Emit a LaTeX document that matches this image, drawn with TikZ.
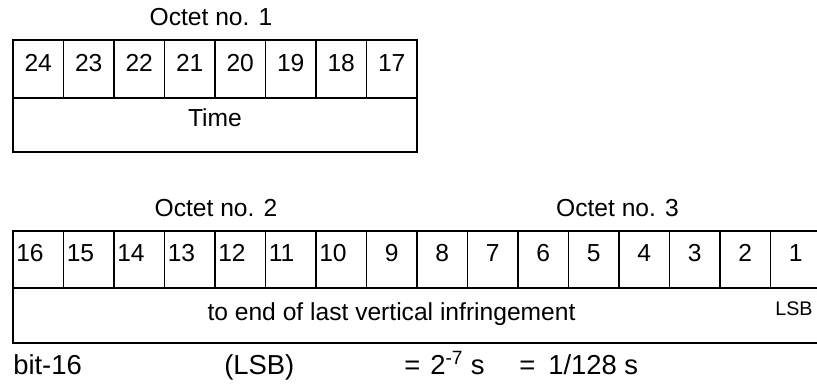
\documentclass[tikz,border=0pt]{standalone}
\usepackage{fontspec}
\setmainfont{Liberation Sans}

\begin{document}
\begin{tikzpicture}[x=0.025cm,y=-0.025cm]
    \tikzstyle{every node}+=[inner sep=0pt]
    \tikzstyle{lbl}=[anchor=base,font=\fontsize{17.5}{20}\selectfont]
    \tikzstyle{big lbl}=[anchor=base west,font=\fontsize{19.5}{22}\selectfont]
    \tikzstyle{small lbl}=[anchor=base,font=\fontsize{14}{16}\selectfont]
    \tikzstyle{rule}=[black,line width=1.4pt]
    \useasboundingbox (0,0) rectangle (817,385);
    \clip (0,0) rectangle (817,385);
    % octet 1
    \draw (211,26) node [lbl] (oct1) {Octet no. 1};
    \draw [rule] (13,40) rectangle (417,152);
    \draw [rule] (13,98) -- (417,98);
    \foreach \i in {1,...,7}
        \draw [rule] (13+50.5*\i,40) -- (13+50.5*\i,98);
    \foreach \i [evaluate=\i as \bit using int(24-\i)] in {0,...,7}
        \draw (38.25+50.5*\i,72) node [lbl] (bit\bit) {\bit};
    \draw (215,127) node [lbl] (time) {Time};
    % octets 2 and 3
    \draw (216,217) node [lbl] (oct2) {Octet no. 2};
    \draw (617.5,217) node [lbl] (oct3) {Octet no. 3};
    \draw [rule] (13,231) rectangle (821,343);
    \draw [rule] (13,288) -- (821,288);
    \foreach \i in {1,...,15}
        \draw [rule] (13+50.5*\i,231) -- (13+50.5*\i,288);
    \foreach \i [evaluate=\i as \bit using int(16-\i)] in {0,...,6}
        \draw (16+50.5*\i,262) node [lbl,anchor=base west] (bit\bit) {\bit};
    \foreach \i [evaluate=\i as \bit using int(16-\i)] in {7,...,15}
        \draw (38.25+50.5*\i,262) node [lbl] (bit\bit) {\bit};
    \draw (391.5,321) node [lbl] (infr) {to end of last vertical infringement};
    \draw (794,316) node [small lbl] (lsb) {LSB};
    % resolution line
    \draw (13,375) node [big lbl] (bitref) {bit-16};
    \draw (224,375) node [big lbl] (lsbnote) {(LSB)};
    \draw (404,375) node [big lbl] (eqa) {=};
    \draw (430,375) node [big lbl] (pow) {2\textsuperscript{-7} s};
    \draw (519,375) node [big lbl] (eqb) {=};
    \draw (548,375) node [big lbl] (res) {1/128 s};
\end{tikzpicture}
\end{document}
